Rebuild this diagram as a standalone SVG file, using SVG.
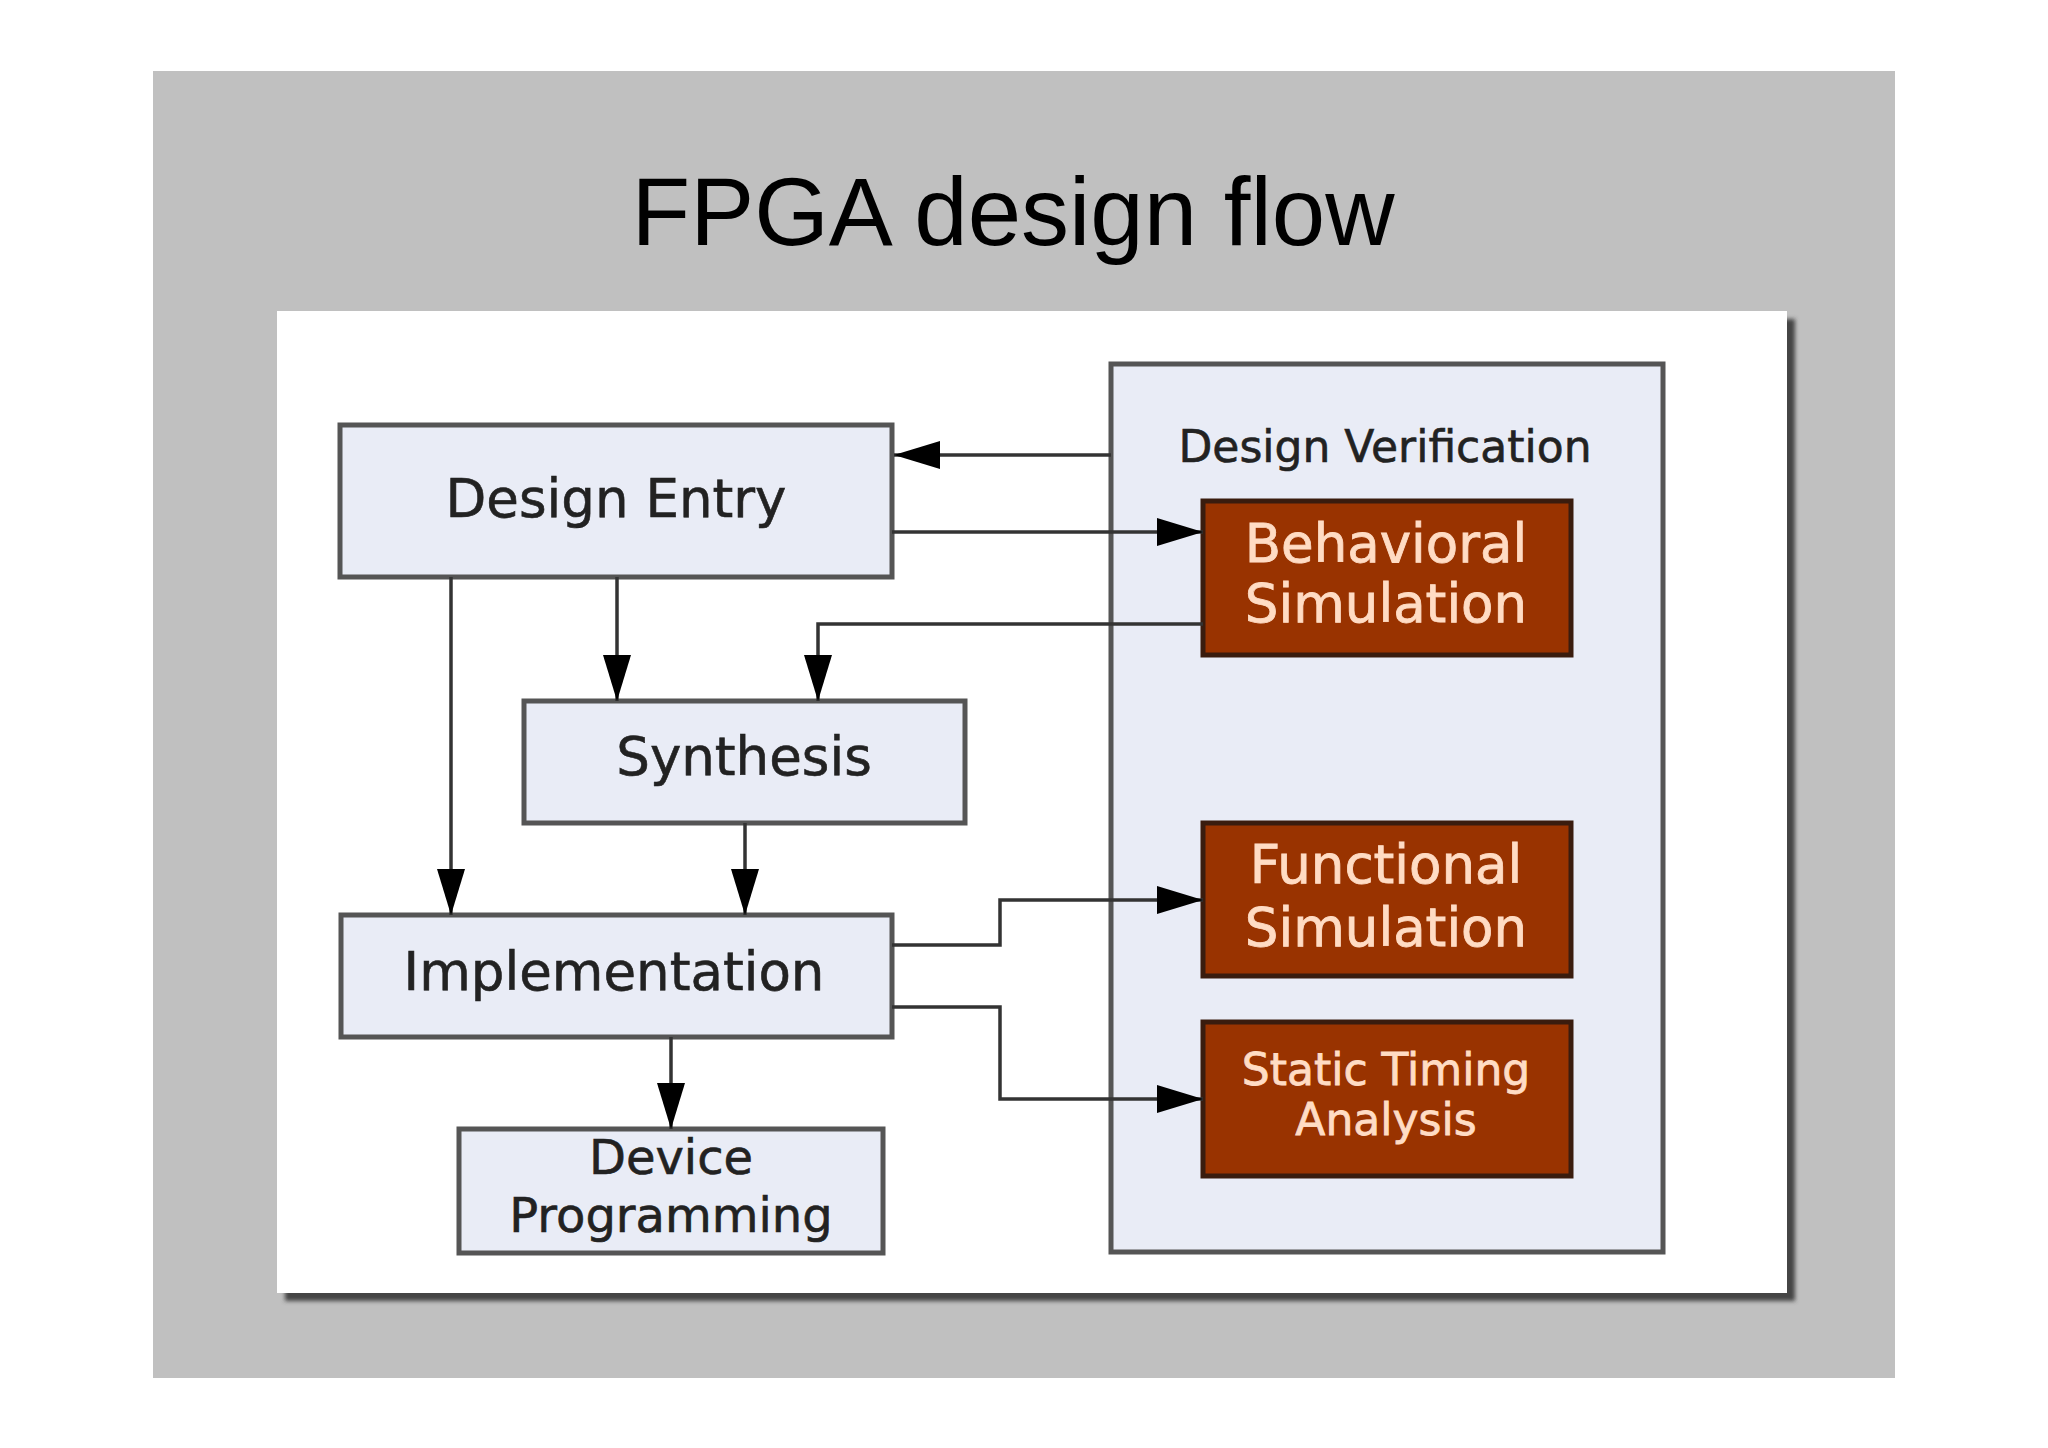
<svg xmlns="http://www.w3.org/2000/svg" width="2048" height="1448" viewBox="0 0 2048 1448">
<style>
.box{fill:#e9ecf6;stroke:#555;stroke-width:5}
.red{fill:#993300;stroke:#3a1c0e;stroke-width:5}
.lbl{font-family:"DejaVu Sans",Verdana,sans-serif;fill:#222;stroke:#222;stroke-width:0.6;text-anchor:middle}
.wl{font-family:"DejaVu Sans",Verdana,sans-serif;fill:#ffdcc4;stroke:#ffdcc4;stroke-width:0.8;text-anchor:middle}
.ln{fill:none;stroke:#333;stroke-width:3.5}
</style>
<defs>
<marker id="ah" markerUnits="userSpaceOnUse" markerWidth="48" markerHeight="30" refX="46" refY="14" orient="auto">
<path d="M0,0 L46,14 L0,28 Z" fill="#000"/>
</marker>
<filter id="sh" x="-5%" y="-5%" width="110%" height="110%"><feGaussianBlur stdDeviation="2"/></filter>
</defs>
<rect width="2048" height="1448" fill="#fff"/>
<rect x="153" y="71" width="1742" height="1307" fill="#c0c0c0"/>
<text x="1013" y="245" font-family="Liberation Sans,Arial,sans-serif" font-size="96" text-anchor="middle" fill="#000">FPGA design flow</text>
<rect x="285" y="319" width="1510" height="982" fill="#444" filter="url(#sh)"/>
<rect x="277" y="311" width="1510" height="982" fill="#fff"/>
<g id="design-verification">
<rect x="1111" y="364" width="552" height="888" class="box" stroke="#666"/>
<text x="1385" y="462" class="lbl" font-size="44">Design Verification</text>
</g>
<g id="design-entry">
<rect x="340" y="425" width="552" height="152" class="box"/>
<text x="616" y="517" class="lbl" font-size="53">Design Entry</text>
</g>
<g id="synthesis">
<rect x="524" y="701" width="441" height="122" class="box"/>
<text x="744" y="775" class="lbl" font-size="53">Synthesis</text>
</g>
<g id="implementation">
<rect x="341" y="915" width="551" height="122" class="box"/>
<text x="614" y="990" class="lbl" font-size="53">Implementation</text>
</g>
<g id="device-programming">
<rect x="459" y="1129" width="424" height="124" class="box"/>
<text x="671" y="1174" class="lbl" font-size="48">Device</text>
<text x="671" y="1232" class="lbl" font-size="48">Programming</text>
</g>
<g id="behavioral-simulation">
<rect x="1203" y="501" width="368" height="154" class="red"/>
<text x="1386" y="562" class="wl" font-size="53">Behavioral</text>
<text x="1386" y="622" class="wl" font-size="53">Simulation</text>
</g>
<g id="functional-simulation">
<rect x="1203" y="823" width="368" height="153" class="red"/>
<text x="1386" y="883" class="wl" font-size="53">Functional</text>
<text x="1386" y="946" class="wl" font-size="53">Simulation</text>
</g>
<g id="static-timing-analysis">
<rect x="1203" y="1022" width="368" height="154" class="red"/>
<text x="1386" y="1085" class="wl" font-size="44">Static Timing</text>
<text x="1386" y="1135" class="wl" font-size="44">Analysis</text>
</g>
<g id="connectors">
<path class="ln" d="M1111,455 L894,455" marker-end="url(#ah)"/>
<path class="ln" d="M892,532 L1203,532" marker-end="url(#ah)"/>
<path class="ln" d="M1203,624 L818,624 L818,701" marker-end="url(#ah)"/>
<path class="ln" d="M617,577 L617,701" marker-end="url(#ah)"/>
<path class="ln" d="M451,577 L451,915" marker-end="url(#ah)"/>
<path class="ln" d="M745,823 L745,915" marker-end="url(#ah)"/>
<path class="ln" d="M892,945 L1000,945 L1000,900 L1203,900" marker-end="url(#ah)"/>
<path class="ln" d="M892,1007 L1000,1007 L1000,1099 L1203,1099" marker-end="url(#ah)"/>
<path class="ln" d="M671,1037 L671,1129" marker-end="url(#ah)"/>
</g>
</svg>
